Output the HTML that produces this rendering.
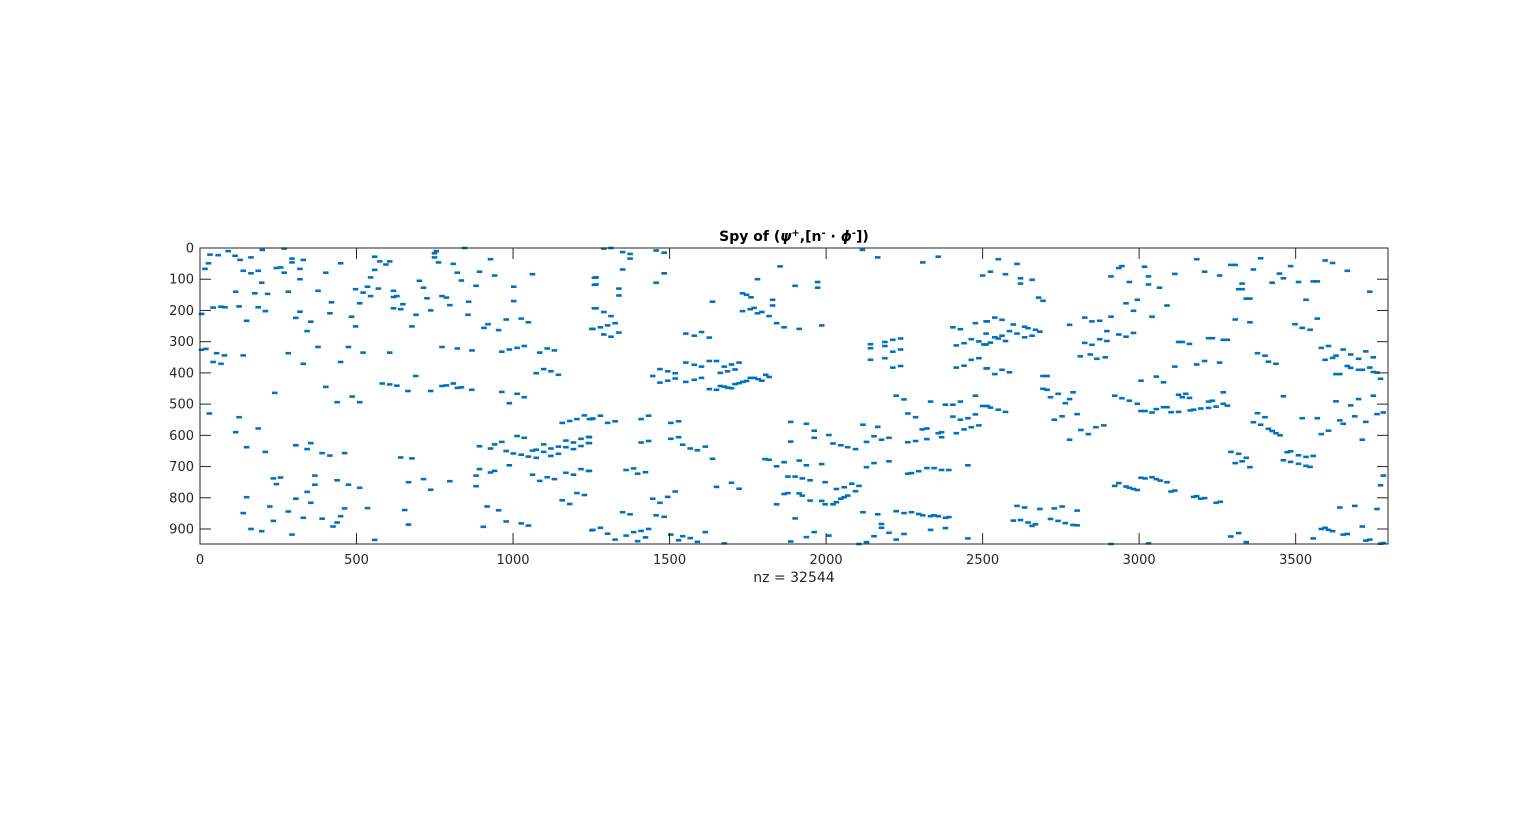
<!DOCTYPE html>
<html><head><meta charset="utf-8"><style>
html,body{margin:0;padding:0;background:#fff;}
svg{display:block;font-family:"DejaVu Sans","Liberation Sans",sans-serif;}
</style></head><body>
<svg id="chart" width="1535" height="821" viewBox="0 0 1535 821" xmlns="http://www.w3.org/2000/svg">
<rect width="1535" height="821" fill="#fff"/>
<g id="marks"></g>
<g id="axes"></g>
<text x="794" y="241" text-anchor="middle" font-size="14" font-weight="bold" fill="#000">Spy of (<tspan font-style="italic">ψ</tspan><tspan baseline-shift="super" font-size="10">+</tspan>,[n<tspan baseline-shift="super" font-size="10">-</tspan> · <tspan font-style="italic">ϕ</tspan><tspan baseline-shift="super" font-size="10">-</tspan>])</text>
<text x="794" y="582" text-anchor="middle" font-size="14" fill="#262626">nz = 32544</text>
</svg>
<script>
const xTicks = [0,500,1000,1500,2000,2500,3000,3500];
const yTicks = [0,100,200,300,400,500,600,700,800,900];
const xMax = 3795;
const yMax = 948;
const cols = [32,58,90,112,128,163,199,269,294,294,330,27,16,138,163,186,244,258,269,319,319,197,175,216,114,282,377,402,449,420,415,484,497,497,510,521,535,545,545,558,558,574,594,606,570,618,618,629,618,641,648,690,677,701,714,725,737,749,755,749,762,809,822,835,773,787,798,858,845,856,882,893,928,941,1002,1002,978,1026,1049,907,920,954,1062,1260,1260,1260,1252,5,42,67,80,125,186,209,149,319,306,354,342,5,19,53,78,138,42,67,282,330,377,449,474,521,606,773,822,869,964,988,1013,1036,1085,1109,1132,239,402,438,486,510,582,606,629,664,689,737,773,787,809,822,835,868,964,988,1013,1036,1074,1098,1121,1145,30,125,114,186,149,209,306,342,354,390,415,462,641,677,893,928,941,964,978,988,1001,1013,1026,1036,1049,1062,1074,1074,1098,1098,1121,1121,1145,1145,1169,1169,1193,1193,1217,1217,1241,1241,1157,1181,1204,1228,1251,234,257,244,367,367,342,354,306,149,138,223,234,282,330,390,425,438,449,462,535,654,438,474,510,666,714,737,798,882,882,893,928,941,1062,1085,1109,1132,1169,1193,1217,1241,1204,1228,1157,1181,163,197,294,558,666,905,917,954,978,1026,1049,1252,
1290,1313,1350,1374,1374,1457,1483,1350,1265,1265,1338,1338,1457,1483,1265,1290,1313,1326,1338,1313,1290,1302,1279,1255,1781,1853,1901,1973,1973,1637,1733,1746,1760,1829,1829,1733,1758,1770,1781,1795,1818,1842,1866,1914,1986,2116,2165,2309,2358,2500,1552,1579,1602,1627,1446,1469,1494,1518,1518,1494,1469,1552,1579,1602,1627,1650,1675,1698,1722,1552,1579,1602,1627,1650,1662,1675,1685,1698,1709,1722,1734,1746,1758,1770,1783,1795,1807,1818,1662,1685,1709,2142,2142,2188,2188,2213,2238,2213,2238,2142,2188,2213,2238,2405,2429,2477,2511,2416,2441,2464,2488,2511,2511,2416,2441,2464,2488,2511,2224,2249,2334,2381,2405,2429,2477,2500,2261,2286,2405,2429,2453,2477,2307,2322,2358,2369,2369,2322,2286,2261,2416,2441,2464,2488,1244,1255,1279,1302,1326,1409,1433,1504,1529,1409,1433,1504,1529,1542,1566,1589,1614,1637,1244,1244,1887,1937,1962,1962,2009,1887,2022,2047,2069,2094,2118,2165,2129,2153,2177,2201,1805,1818,1842,1866,1914,1937,1986,1878,1901,1924,1949,1997,1866,1878,1914,1924,1949,1986,1997,2022,2033,2047,2058,2069,2094,2105,2082,2058,2033,1842,1901,2129,2153,2201,2261,2273,2296,2322,2345,2369,2392,2453,1361,1385,1398,1423,1244,1446,1469,1494,1518,1650,1698,1722,1350,1374,1457,1483,1255,1279,1302,1326,1361,1385,1409,1433,1398,1423,1504,1529,1542,1566,1589,1614,1675,1887,1937,1962,2009,2105,2129,2153,2177,2177,2201,2224,2249,2334,2381,2453,2118,2165,2224,2249,2273,2296,2309,2334,2345,2358,2381,2392,
2550,2610,2525,2573,2621,2621,2658,2679,2693,2515,2539,2562,2598,2634,2645,2669,2683,2586,2610,2634,2658,2562,2550,2573,2539,2525,2504,2515,2539,2562,2586,2515,2525,2550,2573,2778,2826,2849,2874,2910,2897,2935,2958,2982,2826,2849,2874,2897,2812,2844,2865,2892,2910,2935,2945,2969,2958,2982,2994,3017,3030,3030,3065,3089,3041,3114,3184,3209,3257,3293,3307,3365,3388,3448,3461,3425,3484,3509,3556,3569,3594,3618,3665,3737,3533,3329,3318,3329,3342,3354,3307,3354,3498,3521,3546,3569,3126,3138,3161,3222,3234,3269,3282,3114,3184,3209,3257,3378,3402,3413,3437,3582,3605,3594,3618,3629,3652,3676,3701,3724,3748,3629,3641,3665,3676,3701,3713,3737,3748,3760,3771,2693,2706,2693,2706,2717,2741,2764,2778,2789,2729,2754,2802,2778,2814,2838,2862,2887,2922,2945,2969,2994,3006,3055,3078,3006,3019,3041,3055,3078,3089,3102,3126,3126,3138,3149,3161,3174,3163,3197,3222,3234,3246,3269,3269,3282,3222,3461,3378,3402,3365,3388,3413,3425,3437,3450,3521,3569,3582,3605,3629,3641,3652,3676,3689,3701,3724,3748,3713,3760,3780,3293,3318,3342,3307,3329,3354,3473,3484,3509,3533,3556,3461,3484,3509,3533,3546,2922,2935,2958,2969,2982,2994,3006,3019,3041,3055,3067,3089,3102,3114,3174,3184,3197,3209,3246,3259,2610,2634,2683,2729,2754,2802,2598,2621,2645,2658,2669,2717,2741,2764,2789,2802,3293,3318,3342,2910,3030,3556,3582,3594,3605,3618,3652,3665,3713,3724,3737,3771,3780,3641,3689,3760,3771,3780];
const rows = [21,23,10,25,38,30,6,2,34,46,38,49,67,73,81,73,64,62,79,67,100,111,145,147,140,140,137,79,49,174,209,220,251,132,177,143,124,154,94,70,28,43,53,43,130,137,157,154,193,196,180,214,251,105,127,161,200,17,10,30,46,51,79,104,154,159,183,172,0,214,121,76,36,88,124,170,229,226,238,256,244,263,84,95,118,193,259,211,191,188,190,187,190,202,233,204,224,236,266,326,323,337,344,344,365,371,337,371,317,365,317,335,335,317,322,328,332,325,320,314,335,322,328,464,445,494,476,494,434,437,441,458,410,458,442,440,434,448,446,454,461,497,467,478,401,388,395,406,530,542,590,578,638,653,632,644,625,657,665,657,671,674,635,642,629,621,650,696,658,602,662,608,668,649,646,672,629,653,642,666,636,659,617,638,623,644,611,634,605,625,560,554,548,536,548,738,735,756,729,758,781,816,803,798,849,828,874,844,864,867,892,879,859,834,833,839,744,758,768,750,740,774,747,729,763,708,719,714,726,746,734,740,720,726,708,714,785,791,808,820,900,907,918,935,886,893,828,840,876,882,889,904,
2,0,13,19,34,8,15,69,94,117,130,152,111,81,193,205,218,241,271,284,277,248,254,259,100,59,121,109,127,172,145,150,158,166,184,202,196,192,209,205,218,241,254,259,248,6,30,46,28,88,274,281,269,287,410,388,395,401,418,425,431,367,374,380,362,362,380,373,367,429,422,416,452,454,442,444,447,449,436,433,429,426,416,416,420,425,406,413,400,395,389,308,321,301,314,294,290,332,325,358,353,383,378,254,260,241,235,312,305,292,299,274,309,383,377,358,353,386,473,485,492,502,502,492,473,506,530,542,540,550,545,533,581,578,593,590,606,612,618,622,593,581,574,568,548,546,537,560,555,548,537,560,555,623,618,611,606,630,642,648,636,675,606,625,557,563,585,608,599,620,626,632,638,644,566,573,621,603,614,608,676,678,699,686,681,696,692,732,732,738,744,750,788,785,786,793,809,810,821,821,814,803,798,793,779,762,755,766,772,821,866,702,689,683,723,721,715,705,705,711,711,696,711,706,723,718,714,803,816,797,780,765,752,771,846,853,856,861,903,896,915,934,921,910,906,900,939,927,918,936,923,929,941,910,946,940,926,910,921,948,942,923,884,896,912,934,916,903,897,930,846,853,843,849,846,852,856,859,856,859,864,862,
36,51,76,84,97,114,102,159,169,235,223,230,245,252,257,262,268,266,274,286,281,281,290,298,286,303,309,385,404,390,398,506,511,518,525,246,223,235,233,220,266,277,284,272,304,310,292,298,347,341,355,350,91,64,58,109,177,201,166,60,91,117,127,184,220,83,36,76,88,54,54,69,33,82,97,111,58,109,107,107,40,48,73,140,166,114,132,132,162,162,229,238,244,256,262,226,301,301,307,289,289,294,294,380,373,362,367,337,345,364,371,320,314,358,352,345,325,341,355,331,350,404,404,378,384,390,390,383,397,399,419,410,410,451,454,478,467,497,484,462,550,539,532,614,583,596,574,568,473,481,489,499,425,412,430,522,522,527,516,510,510,526,525,470,478,467,480,518,520,514,512,489,508,462,499,505,492,475,529,542,558,566,579,586,593,600,545,545,596,585,491,552,563,504,539,484,557,473,614,532,527,653,659,672,689,683,702,654,651,664,669,666,680,685,691,698,701,762,753,764,768,772,775,736,738,734,740,745,750,780,777,797,795,803,801,816,813,826,831,836,834,828,841,873,871,879,890,885,868,874,881,887,888,924,913,942,948,946,930,900,896,903,907,918,916,892,937,934,947,945,831,826,836,760,729];

const L=200,R=1388,T=248,B=544;
function xs(v){return L+(v/xMax)*(R-L);}
function ys(v){return T+(v/yMax)*(B-T);}
const NS='http://www.w3.org/2000/svg';
const marks=document.getElementById('marks');
const n=Math.min(cols.length,rows.length);
for(let i=0;i<n;i++){
  const r=document.createElementNS(NS,'rect');
  r.setAttribute('x',(xs(cols[i])-2.8).toFixed(1));
  r.setAttribute('y',(ys(rows[i])-1.3).toFixed(1));
  r.setAttribute('width','5.6');
  r.setAttribute('height','2.6');
  r.setAttribute('fill','#0072BD');
  
  
  marks.appendChild(r);
}
const axes=document.getElementById('axes');
function el(tag,attrs){const e=document.createElementNS(NS,tag);for(const k in attrs)e.setAttribute(k,attrs[k]);axes.appendChild(e);return e;}
const box=el('rect',{x:L,y:T,width:R-L,height:B-T,fill:'none',stroke:'#262626','stroke-width':1});


xTicks.forEach(t=>{
  const x=xs(t);
  const a=el('line',{x1:x,y1:B,x2:x,y2:B-11,stroke:'#262626'});
  
  
  const b=el('line',{x1:x,y1:T,x2:x,y2:T+11,stroke:'#262626'});
  
  
  const tx=el('text',{x:x,y:564,'text-anchor':'middle','font-size':13,fill:'#262626'});
  tx.textContent=t;
  
  
});
yTicks.forEach(t=>{
  const y=ys(t);
  const a=el('line',{x1:L,y1:y,x2:L+11,y2:y,stroke:'#262626'});
  
  
  const b=el('line',{x1:R,y1:y,x2:R-11,y2:y,stroke:'#262626'});
  
  
  const tx=el('text',{x:194,y:y+4.5,'text-anchor':'end','font-size':13,fill:'#262626'});
  tx.textContent=t;
  
  
});
</script>
</body></html>
